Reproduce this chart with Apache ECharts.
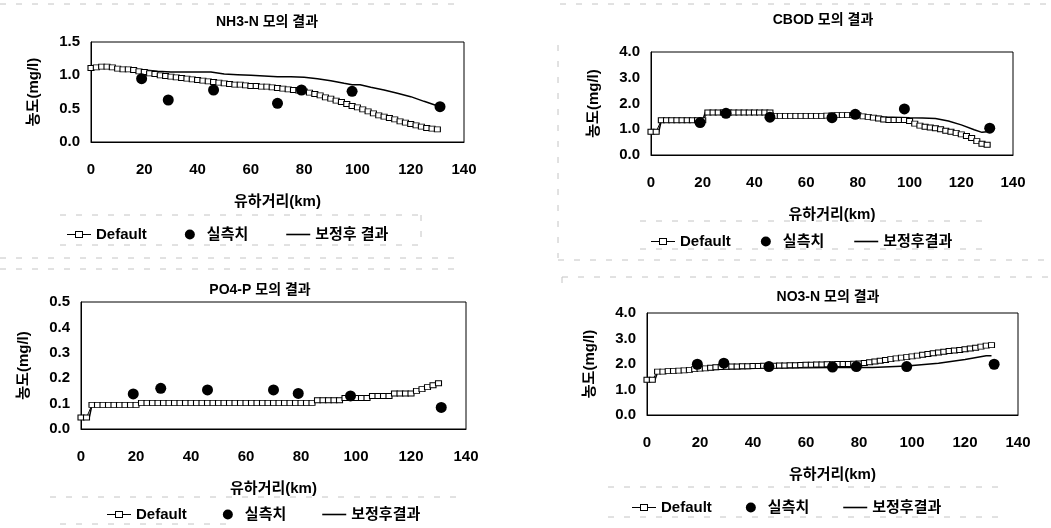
<!DOCTYPE html>
<html>
<head>
<meta charset="utf-8">
<script src="https://cdn.jsdelivr.net/npm/echarts@6/dist/echarts.min.js"></script>
<style>
  html, body { margin: 0; padding: 0; background: #fff; }
  #main { width: 1051px; height: 528px; }
</style>
</head>
<body>
<div id="main"></div>
<script>
// 유하거리 (km) - Default 모의 결과 지점
var distKm = [0,2,4,6,8,10,12,14,16,18,20,22,24,26,28,30,32,34,36,38,40,42,44,46,48,50,52,54,56,58,
  60,62,64,66,68,70,72,74,76,78,80,82,84,86,88,90,92,94,96,98,100,102,104,106,108,110,112,114,116,118,
  120,122,124,126,128,130];
// 실측 지점 (km)
var stationKm = [19,29,46,70,79,98,131];

// NH3-N
var nh3Default = [1.11,1.12,1.13,1.13,1.12,1.10,1.09,1.09,1.08,1.06,
  1.05,1.03,1.02,1.00,0.99,0.98,0.97,0.96,0.95,0.94,
  0.93,0.92,0.91,0.90,0.89,0.88,0.87,0.86,0.86,0.85,
  0.84,0.84,0.83,0.83,0.82,0.81,0.80,0.79,0.78,0.77,
  0.76,0.74,0.72,0.70,0.67,0.65,0.62,0.60,0.57,0.54,
  0.52,0.49,0.46,0.43,0.40,0.38,0.36,0.34,0.31,0.29,
  0.27,0.25,0.23,0.21,0.20,0.19];
var nh3Obs = [0.95,0.63,0.78,0.58,0.78,0.76,0.53];
var nh3CorrKm = [0,5,10,15,20,25,30,35,40,45,50,55,60,65,70,75,80,85,90,95,98,101,105,110,115,120,125,131];
var nh3Corr = [1.11,1.13,1.11,1.10,1.08,1.06,1.05,1.05,1.05,1.05,1.02,1.01,1.00,0.99,0.98,0.98,0.97,0.95,0.92,0.88,
  0.86,0.86,0.82,0.78,0.73,0.68,0.61,0.53];

// CBOD
var cbodDefault = [0.90,0.90,1.35,1.35,1.35,1.35,1.35,1.35,1.35,1.35,
  1.35,1.65,1.65,1.65,1.65,1.65,1.65,1.65,1.65,1.65,
  1.65,1.65,1.65,1.65,1.52,1.52,1.52,1.52,1.52,1.52,
  1.52,1.52,1.52,1.52,1.53,1.54,1.55,1.55,1.55,1.55,
  1.55,1.50,1.48,1.45,1.42,1.38,1.36,1.36,1.36,1.36,
  1.32,1.22,1.14,1.10,1.07,1.04,1.00,0.94,0.90,0.86,
  0.80,0.74,0.66,0.54,0.44,0.40];
var cbodObs = [1.26,1.62,1.47,1.45,1.58,1.79,1.04];
var cbodCorrKm = [0,3,4,20,21,47,48,80,85,90,100,105,110,115,120,125,128,130];
var cbodCorr = [0.90,0.90,1.35,1.35,1.65,1.65,1.55,1.55,1.52,1.48,1.45,1.44,1.42,1.32,1.17,0.98,0.88,0.90];

// PO4-P
var po4Default = [0.045,0.045,0.095,0.095,0.095,0.095,0.095,0.095,0.095,0.095,
  0.095,0.103,0.103,0.103,0.103,0.103,0.103,0.103,0.103,0.103,
  0.103,0.103,0.103,0.103,0.103,0.103,0.103,0.103,0.103,0.103,
  0.103,0.103,0.103,0.103,0.103,0.103,0.103,0.103,0.103,0.103,
  0.103,0.103,0.103,0.113,0.113,0.113,0.113,0.113,0.122,0.122,
  0.122,0.122,0.122,0.130,0.130,0.130,0.130,0.140,0.140,0.140,
  0.140,0.150,0.157,0.165,0.172,0.180];
var po4Obs = [0.138,0.160,0.154,0.154,0.140,0.130,0.085];
var po4CorrKm = [0,3,4,20,21,84,86,94,96,104,106,112,114,120,122,124,126,128,130];
var po4Corr = [0.045,0.045,0.095,0.095,0.103,0.103,0.113,0.113,0.122,0.122,0.130,0.130,0.140,0.140,0.150,0.157,0.165,0.172,0.180];

// NO3-N
var no3Default = [1.38,1.38,1.70,1.70,1.72,1.73,1.74,1.75,1.77,1.80,
  1.82,1.83,1.85,1.87,1.88,1.89,1.90,1.90,1.91,1.91,
  1.92,1.92,1.93,1.93,1.93,1.94,1.94,1.95,1.95,1.96,
  1.97,1.97,1.98,1.98,1.99,1.99,2.00,2.00,2.00,2.01,
  2.02,2.04,2.07,2.10,2.13,2.16,2.19,2.22,2.25,2.27,
  2.30,2.33,2.36,2.39,2.42,2.45,2.48,2.51,2.53,2.55,
  2.58,2.61,2.64,2.68,2.72,2.74];
var no3Obs = [1.99,2.03,1.90,1.88,1.90,1.90,1.99];
var no3CorrKm = [0,3,4,10,20,30,45,60,70,85,98,110,120,128,130];
var no3Corr = [1.38,1.38,1.68,1.70,1.76,1.80,1.84,1.85,1.86,1.86,1.92,2.03,2.18,2.32,2.32];

var FONT = '"Liberation Sans", Arial, "Noto Sans CJK KR", sans-serif';
// 범례 아이콘: -□- 와 실선
var ICON_DEFAULT = 'path://M0,4.5H8V5.5H0Z M16,4.5H24V5.5H16Z M8,1.5H16V8.5H8Z M9,2.5V7.5H15V2.5Z';
var ICON_LINE = 'path://M0,0H24V1.6H0Z';

function pairs(xs, ys) {
  return xs.map(function (x, i) { return [x, ys[i]]; });
}

// 패널 배치
var panels = [
  { title: 'NH3-N 모의 결과', tx: 267, ty: 22, grid: { left: 91, top: 42, width: 373, height: 100 },
    yMax: 1.5, yStep: 0.5, def: nh3Default, obs: nh3Obs, cKm: nh3CorrKm, c: nh3Corr, corrName: '보정후 결과',
    legend: { left: 62, top: 222, itemGap: 38 } },
  { title: 'CBOD 모의 결과', tx: 823, ty: 20, grid: { left: 651, top: 52, width: 362, height: 103 },
    yMax: 4, yStep: 1, def: cbodDefault, obs: cbodObs, cKm: cbodCorrKm, c: cbodCorr, corrName: '보정후결과',
    legend: { left: 646, top: 229, itemGap: 30 } },
  { title: 'PO4-P 모의 결과', tx: 260, ty: 290, grid: { left: 81, top: 302, width: 385, height: 127 },
    yMax: 0.5, yStep: 0.1, def: po4Default, obs: po4Obs, cKm: po4CorrKm, c: po4Corr, corrName: '보정후결과',
    legend: { left: 102, top: 502, itemGap: 36 } },
  { title: 'NO3-N 모의 결과', tx: 828, ty: 297, grid: { left: 647, top: 313, width: 371, height: 102 },
    yMax: 4, yStep: 1, def: no3Default, obs: no3Obs, cKm: no3CorrKm, c: no3Corr, corrName: '보정후결과',
    legend: { left: 627, top: 495, itemGap: 34 } }
];

// 스캔본의 점선 테두리
var dashLines = [
  [0, 4, 460, 4], [560, 4, 1051, 4],
  [60, 215, 420, 215], [60, 245, 420, 245], [421, 215, 421, 245],
  [0, 258, 460, 258], [0, 269, 460, 269],
  [558, 45, 558, 258], [640, 221, 985, 221], [640, 249, 985, 249], [558, 260, 1051, 260],
  [562, 277, 1051, 277], [562, 277, 562, 290],
  [50, 497, 460, 497], [60, 524, 230, 524],
  [608, 487, 1000, 487], [608, 517, 1000, 517]
];

var grids = [], xAxes = [], yAxes = [], series = [], legends = [], graphics = [];

panels.forEach(function (p, i) {
  grids.push({ left: p.grid.left, top: p.grid.top, width: p.grid.width, height: p.grid.height,
    show: true, borderColor: '#000', borderWidth: 1, backgroundColor: '#fff' });
  xAxes.push({
    gridIndex: i, type: 'value', min: 0, max: 140, interval: 20,
    name: '유하거리(km)', nameLocation: 'middle', nameGap: 52,
    nameTextStyle: { fontSize: 15, color: '#000', fontFamily: FONT, fontWeight: 'bold' },
    axisLine: { lineStyle: { color: '#000' } }, axisTick: { show: false }, splitLine: { show: false },
    axisLabel: { fontSize: 15, color: '#000', margin: 20, fontFamily: FONT, fontWeight: 'bold' }
  });
  yAxes.push({
    gridIndex: i, type: 'value', min: 0, max: p.yMax, interval: p.yStep,
    name: '농도(mg/l)', nameLocation: 'middle', nameGap: 50, nameRotate: 90,
    nameTextStyle: { fontSize: 15, color: '#000', fontFamily: FONT, fontWeight: 'bold' },
    axisLine: { show: true, lineStyle: { color: '#000' } }, axisTick: { show: false }, splitLine: { show: false },
    axisLabel: { fontSize: 15, color: '#000', margin: 11, fontFamily: FONT, fontWeight: 'bold',
      formatter: function (v) { return v.toFixed(1); } }
  });
  series.push({
    name: 'Default', type: 'line', xAxisIndex: i, yAxisIndex: i, z: 3,
    data: pairs(distKm, p.def), symbol: 'rect', symbolSize: [6, 5], showAllSymbol: true,
    itemStyle: { color: '#fff', borderColor: '#000', borderWidth: 1 },
    lineStyle: { color: '#000', width: 1 }
  });
  series.push({
    name: '실측치', type: 'scatter', xAxisIndex: i, yAxisIndex: i, z: 4,
    data: pairs(stationKm, p.obs), symbol: 'circle', symbolSize: 11,
    itemStyle: { color: '#000', opacity: 1 }
  });
  series.push({
    name: p.corrName, type: 'line', xAxisIndex: i, yAxisIndex: i, z: 2,
    data: pairs(p.cKm, p.c), symbol: 'none',
    lineStyle: { color: '#000', width: 1.5 }, itemStyle: { color: '#000' }
  });
  legends.push({
    left: p.legend.left, top: p.legend.top, itemGap: p.legend.itemGap,
    itemWidth: 24, itemHeight: 10, selectedMode: false,
    data: [
      { name: 'Default', icon: ICON_DEFAULT, itemStyle: { color: '#000', borderWidth: 0 } },
      { name: '실측치', itemStyle: { color: '#000', opacity: 1 } },
      { name: p.corrName, icon: ICON_LINE, itemStyle: { color: '#000', borderWidth: 0 } }
    ],
    textStyle: { fontSize: 15, color: '#000', fontFamily: FONT, fontWeight: 'bold' }
  });
  graphics.push({
    type: 'text', x: p.tx, y: p.ty,
    style: { text: p.title, align: 'center', verticalAlign: 'middle', fontSize: 14, fontWeight: 'bold',
      fill: '#000', fontFamily: FONT }
  });
});

dashLines.forEach(function (l) {
  graphics.push({
    type: 'line', silent: true,
    shape: { x1: l[0], y1: l[1], x2: l[2], y2: l[3] },
    style: { stroke: '#c4c4c4', lineWidth: 1, lineDash: [6, 10] }
  });
});

var myChart = echarts.init(document.getElementById('main'));
myChart.setOption({
  animation: false,
  backgroundColor: '#fff',
  grid: grids,
  xAxis: xAxes,
  yAxis: yAxes,
  legend: legends,
  series: series,
  graphic: graphics
});
</script>
</body>
</html>
